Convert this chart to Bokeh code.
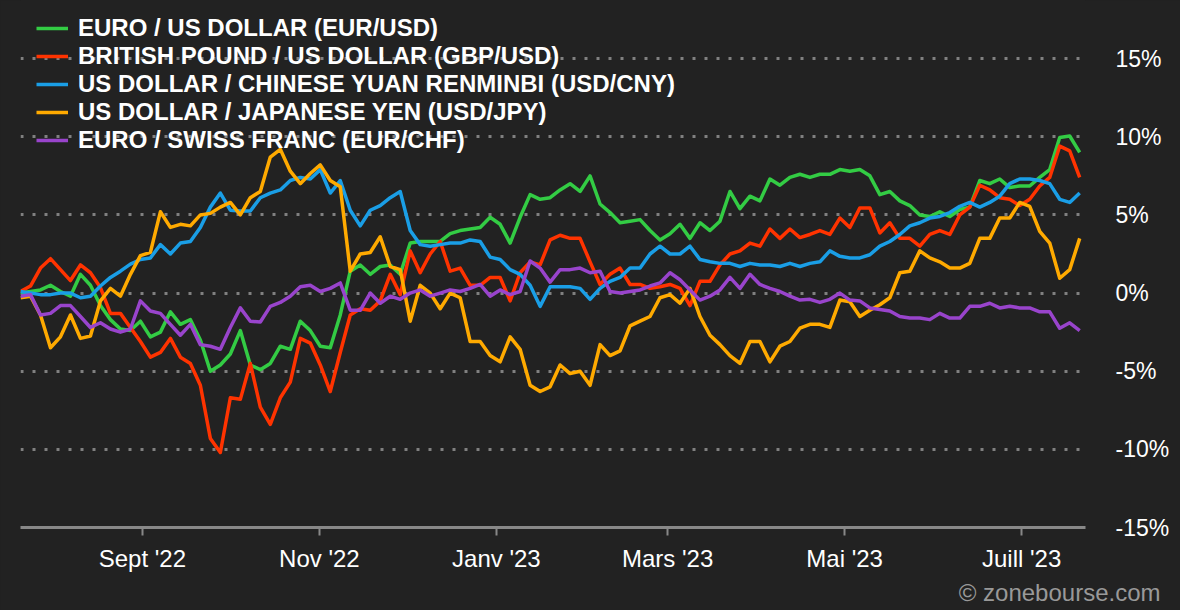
import pandas as pd
from bokeh.plotting import figure
from bokeh.models import Range1d, FixedTicker, Legend, LegendItem, Title
from bokeh.embed import file_html
from bokeh.resources import INLINE

# ---- data (percent change) ----
start_date = "2022-07-21"
end_date = "2023-07-21"
n_points = 107

eur_usd = [0, 0.1, 0.2, 0.5, 0.1, -0.2, 1.2, 0.5, -0.8, -1.7,
           -2.3, -2.4, -1.8, -2.8, -2.5, -1.2, -2.0, -1.7, -3.0, -5.0,
           -4.6, -3.9, -2.4, -4.6, -4.9, -4.5, -3.4, -3.6, -1.8, -2.4,
           -3.4, -3.5, -1.4, 1.4, 1.8, 1.2, 1.7, 1.8, 1.2, 3.2,
           3.3, 3.3, 3.3, 3.8, 4.0, 4.1, 4.2, 4.85, 4.4, 3.2,
           4.85, 6.3, 6.0, 6.1, 6.6, 7.0, 6.5, 7.5, 5.7, 5.15,
           4.5, 4.6, 4.7, 4.0, 3.4, 3.8, 4.4, 3.5, 4.5, 4.0,
           4.6, 6.5, 5.4, 6.2, 5.9, 7.3, 6.9, 7.4, 7.6, 7.4,
           7.6, 7.6, 7.9, 7.8, 7.9, 7.5, 6.3, 6.5, 5.9, 5.6,
           5.0, 4.9, 5.2, 4.9, 5.35, 5.5, 7.2, 7.0, 7.3, 6.75,
           6.85, 6.85, 7.4, 7.9, 9.95, 10.05, 9.0]

gbp_usd = [0.1, 0.45, 1.6, 2.2, 1.5, 0.8, 1.8, 1.3, 0.35, -1.3,
           -1.3, -2.2, -3.1, -4.1, -3.8, -2.9, -4.1, -4.5, -5.9, -9.3,
           -10.2, -6.7, -6.8, -4.5, -7.3, -8.4, -6.7, -5.7, -2.9, -3.2,
           -4.6, -6.3, -3.8, -1.4, -1.0, -1.1, -0.5, 1.2, -0.1, 2.7,
           1.3, 2.5, 3.3, 1.4, 1.6, 0.5, 0.5, 1.0, 1.0, -0.5,
           1.3, 2.0, 1.8, 3.4, 3.7, 3.5, 3.5, 2.0, 0.55, 1.2,
           1.6, 0.55, 0.55, 0.3, 0.4, 0.55, 0.3, -0.8, 0.75, 0.75,
           1.8, 2.5, 2.7, 3.2, 3.0, 4.1, 3.5, 4.1, 3.55, 3.75,
           4.0, 3.75, 4.8, 4.2, 5.45, 5.45, 3.85, 4.5, 3.5, 3.5,
           3.0, 3.75, 4.0, 3.75, 5.0, 5.5, 6.9, 6.6, 6.1, 6.0,
           5.6, 6.0, 6.85, 7.4, 9.4, 9.1, 7.4]

usd_cny = [0.1, 0.0, -0.1, -0.1, 0, 0, -0.3, -0.2, 0.45, 1.0,
           1.4, 1.85, 2.15, 2.25, 3.1, 2.5, 3.2, 3.3, 4.2, 5.5,
           6.4, 5.3, 5.25, 5.25, 6.1, 6.4, 6.6, 7.2, 7.4, 7.3,
           7.9, 6.4, 7.2, 5.3, 4.3, 5.3, 5.6, 6.1, 6.5, 4.0,
           3.1, 3.0, 3.1, 3.2, 3.2, 3.4, 3.3, 2.3, 2.15, 1.5,
           1.2, 0.5, -0.85, 0.4, 0.4, 0.4, 0.3, -0.4, 0.3, 0.75,
           1.0, 1.6, 1.6, 2.5, 3.0, 2.5, 2.5, 3.0, 2.15, 2.0,
           1.9, 1.9, 1.7, 1.9, 1.8, 1.8, 1.7, 1.9, 1.7, 1.9,
           2.0, 2.7, 2.35, 2.25, 2.25, 2.45, 3.0, 3.3, 3.75, 4.3,
           4.5, 4.8, 4.9, 5.15, 5.55, 5.8, 5.5, 5.8, 6.2, 7.0,
           7.3, 7.3, 7.2, 7.0, 6.0, 5.8, 6.4]

usd_jpy = [-0.3, -0.2, -1.4, -3.5, -2.8, -1.4, -2.9, -2.75, -0.5, 0.3,
           -0.2, 1.2, 2.4, 2.6, 5.2, 4.2, 4.4, 4.3, 5.0, 5.1,
           5.5, 5.8, 5.0, 6.1, 6.5, 8.7, 9.2, 7.8, 7.0, 7.65,
           8.2, 7.2, 6.8, 1.4, 2.5, 2.6, 3.6, 1.7, 1.5, -1.8,
           0.5, 0, -1.0, 0, -0.3, -3.1, -3.1, -4.0, -4.4, -2.8,
           -3.6, -5.9, -6.3, -6.0, -4.6, -5.15, -5.0, -5.9, -3.3, -4.0,
           -3.7, -2.1, -1.8, -1.5, -0.3, -0.1, -0.65, 0.3, -1.5, -2.7,
           -3.3, -4.0, -4.5, -3.1, -3.1, -4.4, -3.4, -3.1, -2.25, -2.0,
           -2.0, -2.2, -0.45, -0.55, -1.5, -1.1, -0.75, -0.3, 1.3, 1.4,
           2.7, 2.25, 2.0, 1.6, 1.6, 1.9, 3.5, 3.5, 4.8, 4.8,
           5.8, 5.55, 3.95, 3.2, 0.95, 1.5, 3.5]

eur_chf = [-0.2, -0.1, -1.4, -1.3, -0.8, -0.8, -1.5, -2.2, -1.9, -2.3,
           -2.5, -2.3, -0.5, -1.15, -1.3, -2.0, -2.7, -2.0, -3.3, -3.4,
           -3.6, -2.2, -0.95, -1.8, -1.85, -0.85, -0.6, -0.2, 0.4, 0.5,
           0.1, 0.3, 0.65, -1.1, -1.1, 0, -0.65, -0.2, -0.4, 0,
           0.2, -0.2, 0, 0.2, 0.1, 0.3, 0.55, -0.2, 0.2, -0.1,
           0.1, 2.05, 1.6, 0.7, 1.5, 1.5, 1.6, 1.3, 1.4, 0.1,
           0, 0.1, 0.2, 0.45, 0.65, 1.3, 0.85, 0.2, -0.45, -0.2,
           0.2, 1.0, 0.3, 1.2, 0.55, 0.3, 0.1, -0.2, -0.45, -0.4,
           -0.6, -0.4, 0, -0.45, -0.5, -0.95, -1.05, -1.15, -1.5, -1.6,
           -1.6, -1.7, -1.3, -1.6, -1.6, -0.85, -0.85, -0.65, -0.95, -0.85,
           -0.95, -0.95, -1.2, -1.2, -2.25, -1.9, -2.4]

series_names = ["EURO / US DOLLAR (EUR/USD)",
                "BRITISH POUND / US DOLLAR (GBP/USD)",
                "US DOLLAR / CHINESE YUAN RENMINBI (USD/CNY)",
                "US DOLLAR / JAPANESE YEN (USD/JPY)",
                "EURO / SWISS FRANC (EUR/CHF)"]
series_colors = ["#33cc44", "#ff3300", "#1a9ee6", "#ffaa00", "#9944cc"]

x_tick_dates = ["2022-09-01", "2022-11-01", "2023-01-01",
                "2023-03-01", "2023-05-01", "2023-07-01"]
x_tick_labels = ["Sept '22", "Nov '22", "Janv '23", "Mars '23", "Mai '23", "Juill '23"]
y_ticks = [-15, -10, -5, 0, 5, 10, 15]
y_tick_labels = ["-15%", "-10%", "-5%", "0%", "5%", "10%", "15%"]
credit = "© zonebourse.com"

# ---- build ----
dates = pd.date_range(start_date, end_date, periods=n_points)
all_series = [eur_usd, gbp_usd, usd_cny, usd_jpy, eur_chf]

BG = "#222222"
FONT = "Liberation Sans"

p = figure(width=1180, height=610, x_axis_type="datetime", y_axis_location="right",
           output_backend="svg", toolbar_location=None,
           x_range=Range1d(dates[0], dates[-1] + pd.Timedelta(days=2)),
           y_range=Range1d(-15, 18.72),
           min_border_left=20, min_border_right=95, min_border_top=0, min_border_bottom=83)
p.background_fill_color = BG
p.border_fill_color = BG
p.outline_line_color = None

items = []
for name, vals, col in zip(series_names, all_series, series_colors):
    r = p.line(dates, vals, line_color=col, line_width=3.5, line_join="round")
    items.append(LegendItem(label=name, renderers=[r]))

# grids
p.xgrid.visible = False
p.ygrid.ticker = FixedTicker(ticks=[t for t in y_ticks if t != y_ticks[0]])
p.ygrid.grid_line_color = "#808080"
p.ygrid.grid_line_width = 3
p.ygrid.grid_line_dash = "3 9"

# x axis
tick_ms = [pd.Timestamp(d).value / 1e6 for d in x_tick_dates]
xa = p.xaxis[0]
xa.ticker = FixedTicker(ticks=tick_ms)
xa.major_label_overrides = {t: l for t, l in zip(tick_ms, x_tick_labels)}
xa.axis_line_color = "#888888"
xa.axis_line_width = 3
xa.major_tick_line_color = "#888888"
xa.major_tick_line_width = 2
xa.major_tick_in = 0
xa.major_tick_out = 8
xa.minor_tick_line_color = None
xa.major_label_standoff = 9
xa.major_label_text_color = "#ffffff"
xa.major_label_text_font = FONT
xa.major_label_text_font_size = "24px"

# y axis (right)
ya = p.yaxis[0]
ya.ticker = FixedTicker(ticks=y_ticks)
ya.major_label_overrides = {t: l for t, l in zip(y_ticks, y_tick_labels)}
ya.axis_line_color = None
ya.major_tick_line_color = None
ya.minor_tick_line_color = None
ya.major_tick_out = 0
ya.major_tick_in = 0
ya.major_label_standoff = 30
ya.major_label_text_color = "#ffffff"
ya.major_label_text_font = FONT
ya.major_label_text_font_size = "23px"

legend = Legend(items=items, location=(16, 373), padding=0, margin=0,
                spacing=0, glyph_width=32, glyph_height=28, label_height=28,
                label_standoff=10, background_fill_alpha=0, border_line_color=None,
                label_text_color="#ffffff", label_text_font=FONT,
                label_text_font_style="bold", label_text_font_size="24px")
p.add_layout(legend)

wm = Title(text=credit, align="right", offset=-75, standoff=4,
           text_color="#999999", text_font=FONT, text_font_style="normal",
           text_font_size="24px")
p.add_layout(wm, "below")

html = file_html(p, INLINE)
html = html.replace("<head>", "<head><style>html, body { background: #222222; }</style>", 1)
open("out.html", "w").write(html)
